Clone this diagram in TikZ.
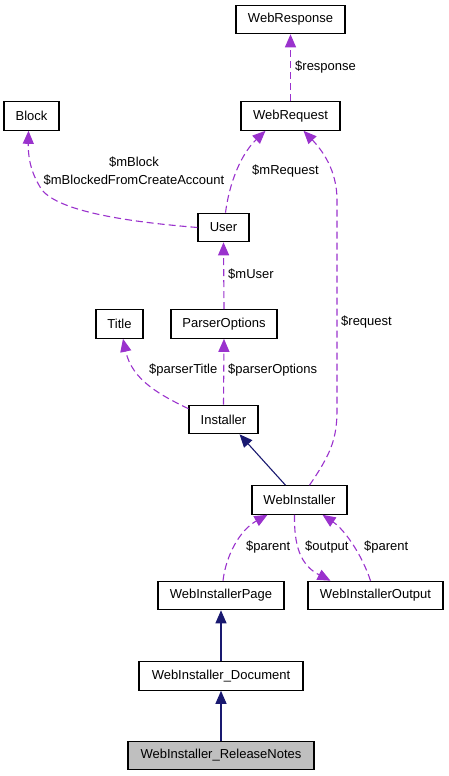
\documentclass[tikz,border=0pt]{standalone}
\usepackage{fontspec}
\setmainfont{Liberation Sans}
\usetikzlibrary{arrows.meta}
\definecolor{usecol}{HTML}{9A32CD}
\definecolor{inhcol}{HTML}{191970}
\definecolor{leafgray}{HTML}{BFBFBF}
\begin{document}
\begin{tikzpicture}[x=1pt,y=-1pt, font=\fontsize{13}{18}\selectfont,
  cls/.style={draw=black, line width=1.1pt, fill=white, minimum height=28.5pt, inner sep=0pt, anchor=center},
  usage/.style={draw=usecol, line width=1.1pt, dash pattern=on 7pt off 4pt, -{Triangle[length=13pt,width=11pt]}},
  inher/.style={draw=inhcol, line width=1.1pt, -{Triangle[length=13pt,width=11pt]}},
  lbl/.style={anchor=west, inner sep=0pt}]
\useasboundingbox (0,0) rectangle (448,776);

\node[cls, minimum width=109pt] (wrs) at (290.5,19.5) {WebResponse};
\node[cls, minimum width=55pt] (blk) at (31.5,116) {Block};
\node[cls, minimum width=99pt] (wrq) at (290.5,116) {WebRequest};
\node[cls, minimum width=51pt] (usr) at (223.5,227.5) {User};
\node[cls, minimum width=47pt] (ttl) at (119.5,324) {Title};
\node[cls, minimum width=106pt] (pop) at (224,324) {ParserOptions};
\node[cls, minimum width=69pt] (ins) at (223.5,419.5) {Installer};
\node[cls, minimum width=95pt] (win) at (299.5,500) {WebInstaller};
\node[cls, minimum width=126pt] (wip) at (221,595.5) {WebInstallerPage};
\node[cls, minimum width=135pt] (wio) at (375.5,595.5) {WebInstallerOutput};
\node[cls, minimum width=164pt] (wid) at (221,676) {WebInstaller\_Document};
\node[cls, minimum width=186pt, fill=leafgray] (wrn) at (221,755.5) {WebInstaller\_ReleaseNotes};

\draw[usage] (wrq.north) -- (wrs.south);
\draw[usage] (usr.west) .. controls (130,222) and (60,212) .. (42,190) .. controls (32,175) and (28,160) .. ([xshift=-3pt]blk.south);
\draw[usage] ([xshift=2pt]usr.north) .. controls (229,185) and (240,155) .. ([xshift=-25pt]wrq.south);
\draw[usage] ([xshift=10pt]win.north) .. controls (330,455) and (337,440) .. (337,410) -- (337,200) .. controls (337,170) and (322,150) .. ([xshift=13pt]wrq.south);
\draw[usage] (pop.north) -- (usr.south);
\draw[usage] ([yshift=-4pt]ins.north west) .. controls (160,395) and (132,380) .. ([xshift=3.5pt]ttl.south);
\draw[usage] (ins.north) -- (pop.south);
\draw[inher] ([xshift=-14pt]win.north) -- ([xshift=16pt]ins.south);
\draw[usage] ([xshift=2pt]wip.north) .. controls (226,555) and (240,530) .. ([xshift=-32pt]win.south);
\draw[usage] ([xshift=-5pt]win.south) .. controls (294,545) and (300,565) .. ([xshift=-45pt]wio.north);
\draw[usage] ([xshift=-5pt]wio.north) .. controls (362,555) and (345,530) .. ([xshift=23pt]win.south);
\draw[inher] (wid.north) -- (wip.south);
\draw[inher] (wrn.north) -- (wid.south);

\node[lbl] (l1) at (295,67) {\$response};
\node[align=center, inner sep=0pt] (l2) at (134,171) {\$mBlock\\\$mBlockedFromCreateAccount};
\node[lbl] (l3) at (252,171) {\$mRequest};
\node[lbl] (l4) at (341,322) {\$request};
\node[lbl] (l5) at (228,274) {\$mUser};
\node[lbl] (l6) at (149,370) {\$parserTitle};
\node[lbl] (l7) at (228,370) {\$parserOptions};
\node[lbl] (l8) at (246,547) {\$parent};
\node[lbl] (l9) at (305,547) {\$output};
\node[lbl] (l10) at (364,547) {\$parent};
\end{tikzpicture}
\end{document}
